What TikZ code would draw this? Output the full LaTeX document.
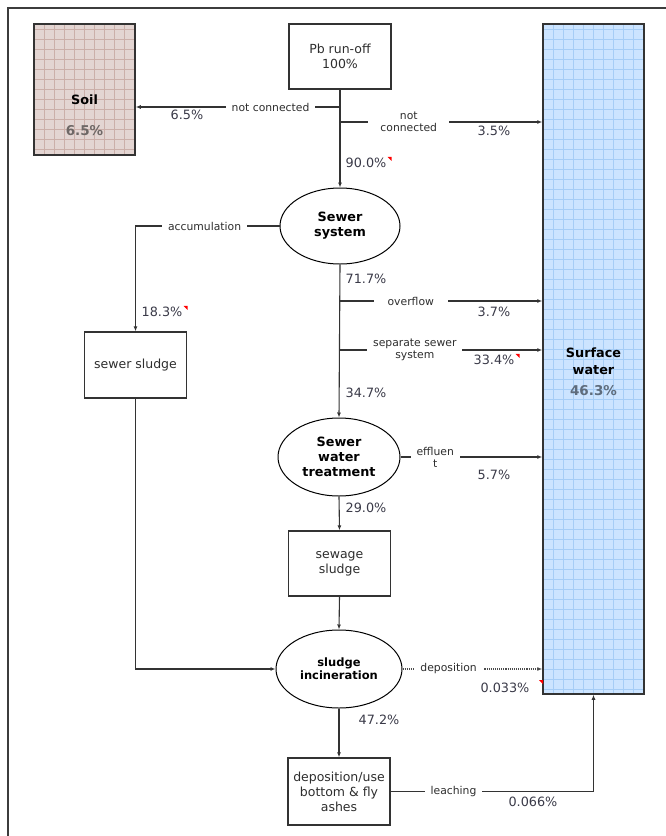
\documentclass[tikz,border=0pt]{standalone}
\usepackage{fontspec}
\setmainfont{DejaVu Sans}
\usetikzlibrary{arrows.meta,shapes.geometric}
\definecolor{txt}{HTML}{2E2E2E}
\definecolor{pct}{HTML}{3A3A48}
\definecolor{soilfill}{HTML}{E3D5D2}
\definecolor{soilgrid}{HTML}{CBAFA9}
\definecolor{waterfill}{HTML}{CCE4FF}
\definecolor{watergrid}{HTML}{A6CDF6}
\definecolor{framec}{HTML}{3C3C3C}
\definecolor{lnc}{HTML}{333333}
\begin{document}
\begin{tikzpicture}[x=1pt,y=-1pt,
  box/.style={draw=lnc,line width=1.3pt,fill=white,minimum width=102pt,minimum height=66pt,
    align=center,text=txt,font=\fontsize{12.5}{15}\selectfont,inner sep=0pt},
  proc/.style={ellipse,draw=black,line width=1pt,fill=white,align=center,text=black,
    font=\bfseries\fontsize{12.8}{15}\selectfont,inner sep=0pt,minimum width=120pt,minimum height=76pt},
  store/.style={draw=lnc,line width=1.5pt,inner sep=0pt},
  flow/.style={line width=1.1pt,draw=lnc,-{Latex[length=5pt,width=4pt]}},
  plain/.style={line width=1.1pt,draw=lnc},
  lbl/.style={fill=white,font=\fontsize{10.8}{12}\selectfont,text=txt,align=center,inner xsep=6pt,inner ysep=1pt},
  pc/.style={font=\fontsize{12.8}{15}\selectfont,text=pct,inner sep=0pt},
  redmark/.style={fill=red},
]
\useasboundingbox (0,0) rectangle (665,836);
% frame
\draw[framec,line width=1.6pt] (8,840) -- (8,8) -- (670,8);

% stores
\node[store,fill=soilfill,minimum width=101pt,minimum height=131pt,
  path picture={\draw[soilgrid,line width=0.5pt] (path picture bounding box.south west) grid[step=10pt] (path picture bounding box.north east);},
  label={[align=center,yshift=-26pt,font=\bfseries\fontsize{12.8}{31}\selectfont,text=black]center:Soil\\\textcolor[HTML]{6E6866}{\fontsize{13.5}{16}\selectfont 6.5\%}}]
  (soil) at (84.5,89.5) {};
\node[store,fill=waterfill,minimum width=101pt,minimum height=670pt,
  path picture={\draw[watergrid,line width=0.5pt] (path picture bounding box.south west) grid[step=10pt] (path picture bounding box.north east);},
  label={[align=center,yshift=-13pt,font=\bfseries\fontsize{12.8}{17}\selectfont,text=black]center:Surface\\water\\[4pt]\textcolor[HTML]{5E6C7C}{\fontsize{13.5}{16}\selectfont 46.3\%}}]
  (water) at (593.5,359) {};

% boxes
\node[box,minimum height=65pt] (run) at (340,56.5) {Pb run-off\\100\%};
\node[proc] (sewer) at (340,226) {Sewer\\system};
\node[box] (sludge1) at (135.5,365) {sewer sludge};
\node[proc,minimum width=122pt,minimum height=78pt] (treat) at (339,457) {Sewer\\water\\treatment};
\node[box,minimum height=65pt] (sludge2) at (339.5,563.5) {sewage\\sludge};
\node[proc,minimum width=126pt,minimum height=78pt,font=\bfseries\fontsize{11.5}{13}\selectfont] (incin) at (339,669) {sludge\\incineration};
\node[box,minimum height=67pt] (ashes) at (339,791.5) {deposition/use\\bottom \& fly\\ashes};

% branch points
\coordinate (b1) at (340,107);
\coordinate (b2) at (340,122);
\coordinate (o1) at (340,301);
\coordinate (o2) at (340,350);
\coordinate (lc) at (water.south |- ashes.east);

% connectors
\draw[flow] (run.south) -- (sewer.north);
\draw[flow] (b1) -- node[lbl,pos=0.34]{not connected} (b1 -| soil.east);
\draw[flow] (b2) -- node[lbl,pos=0.34,inner xsep=12pt]{not\\connected} (b2 -| water.west);
\draw[flow] (sewer.west) -- node[lbl,pos=0.52]{accumulation} (sewer.west -| sludge1.north) -- (sludge1.north);
\draw[flow] (sludge1.south) |- (incin.west);
\draw[flow] (sewer.south) -- (treat.north);
\draw[flow] (o1) -- node[lbl,pos=0.35,inner xsep=14pt]{overflow} (o1 -| water.west);
\draw[flow] (o2) -- node[lbl,pos=0.37]{separate sewer\\system} (o2 -| water.west);
\draw[flow] (treat.east) -- node[lbl,pos=0.245]{effluen\\t} (treat.east -| water.west);
\draw[flow] (treat.south) -- (sludge2.north);
\draw[flow] (sludge2.south) -- (incin.north);
\draw[flow,densely dotted,draw=black!70] (incin.east) -- node[lbl,pos=0.33]{deposition} (incin.east -| water.west);
\draw[flow] (incin.south) -- (ashes.north);
\draw[flow] (ashes.east) -- node[lbl,pos=0.31]{leaching} (lc) -- (water.south);

% percentages
\node[pc] (p1) at (187,115) {6.5\%};
\node[pc] (p2) at (494,131) {3.5\%};
\node[pc] (p3) at (366,163) {90.0\%};
\node[pc] (p4) at (366,279) {71.7\%};
\node[pc] (p5) at (162,312) {18.3\%};
\node[pc] (p6) at (494,312) {3.7\%};
\node[pc] (p7) at (494,360) {33.4\%};
\node[pc] (p8) at (366,393) {34.7\%};
\node[pc] (p9) at (494,475) {5.7\%};
\node[pc] (p10) at (366,508) {29.0\%};
\node[pc] (p11) at (505,688) {0.033\%};
\node[pc] (p12) at (379,720) {47.2\%};
\node[pc] (p13) at (533,802) {0.066\%};

% comment markers
\fill[redmark] (p3.north east) ++(1,-1) -- ++(4,0) -- ++(0,4) -- cycle;
\fill[redmark] (p5.north east) ++(1,-1) -- ++(4,0) -- ++(0,4) -- cycle;
\fill[redmark] (p7.north east) ++(1,-1) -- ++(4,0) -- ++(0,4) -- cycle;
\fill[redmark] (539,680) -- ++(4,0) -- ++(0,4) -- cycle;
\end{tikzpicture}
\end{document}
